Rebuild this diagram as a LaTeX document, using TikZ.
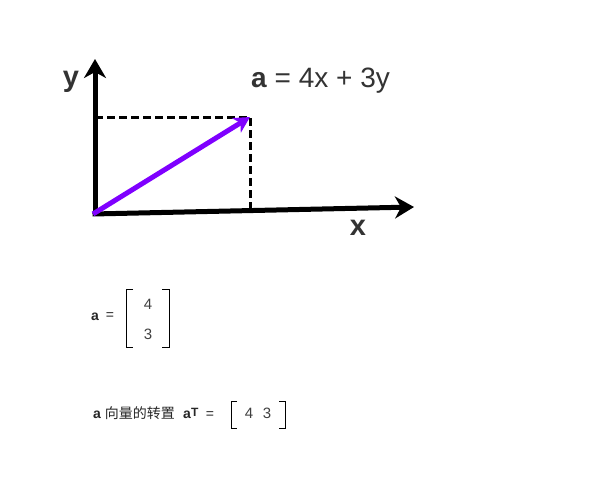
\documentclass[tikz,border=0pt]{standalone}
\usepackage{fontspec}
\setmainfont{Liberation Sans}
\newfontfamily\cjkfont{Noto Sans CJK SC}
\usetikzlibrary{arrows.meta}
\definecolor{vecpurple}{HTML}{7F00FF}
\definecolor{labelgray}{HTML}{333333}
\tikzset{
  axisline/.style={line width=5pt,-{Stealth[length=19pt,width=22pt,inset=6pt]}},
  vecline/.style={line width=5pt,vecpurple,-{Stealth[length=16pt,width=17pt,inset=5pt]}},
  helpline/.style={line width=3pt,dash pattern=on 8pt off 4pt},
  biglabel/.style={inner sep=0pt,anchor=base,text=labelgray,font=\fontsize{29}{30}\selectfont\bfseries},
  mtext/.style={inner sep=0pt,anchor=base,text=black!85,font=\fontsize{14}{15}\selectfont},
  mentry/.style={inner sep=0pt,anchor=base,text=black!75,font=\fontsize{15}{16}\selectfont},
  bracket/.style={line width=1pt}
}
\begin{document}
\begin{tikzpicture}[x=1pt,y=-1pt]
  \useasboundingbox[fill=white] (0,0) rectangle (590,490);
  % axes and the vector a
  \coordinate (O) at (95,214);
  \coordinate (Y) at (95,59);
  \coordinate (X) at (414,207);
  \coordinate (P) at (250,117);
  \coordinate (Py) at (95,117);
  \coordinate (Px) at (250,210);
  \draw[helpline] (Py) -- (P) -- (Px);
  \draw[axisline] (O) -- (Y);
  \draw[axisline] ([xshift=-2.5pt]O) -- (X);
  \draw[vecline] ([xshift=-2pt]O) -- (P);
  \node[biglabel] (ylab) at (71,86) {y};
  \node[biglabel] (xlab) at (358,235) {x};
  \node[inner sep=0pt,anchor=base west,text=labelgray,font=\fontsize{28}{29}\selectfont] (aeq) at (251,87) {\textbf{a} = 4x + 3y};
  % a as a column
  \node[mtext] (acol) at (95,320) {\textbf{a}};
  \node[mtext] (eqcol) at (110,319) {=};
  \node[mentry] (c4) at (148,309) {4};
  \node[mentry] (c3) at (148,339) {3};
  \draw[bracket] (133,289) -- (126.5,289) -- (126.5,347) -- (133,347);
  \draw[bracket] (162,289) -- (169.5,289) -- (169.5,347) -- (162,347);
  % transposed a
  \node[mtext,anchor=base west] (arow) at (93,418) {\textbf{a} {\cjkfont 向量的转置}};
  \node[mtext,anchor=base west] (aT) at (183,418) {\textbf{a}\raisebox{1.5pt}{\fontsize{12}{12}\selectfont\textbf{T}}};
  \node[mtext] (eqrow) at (210,418) {=};
  \node[mentry] (r4) at (249,418) {4};
  \node[mentry] (r3) at (267,418) {3};
  \draw[bracket] (237,401) -- (231,401) -- (231,428) -- (237,428);
  \draw[bracket] (279,401) -- (285,401) -- (285,428) -- (279,428);
\end{tikzpicture}
\end{document}
